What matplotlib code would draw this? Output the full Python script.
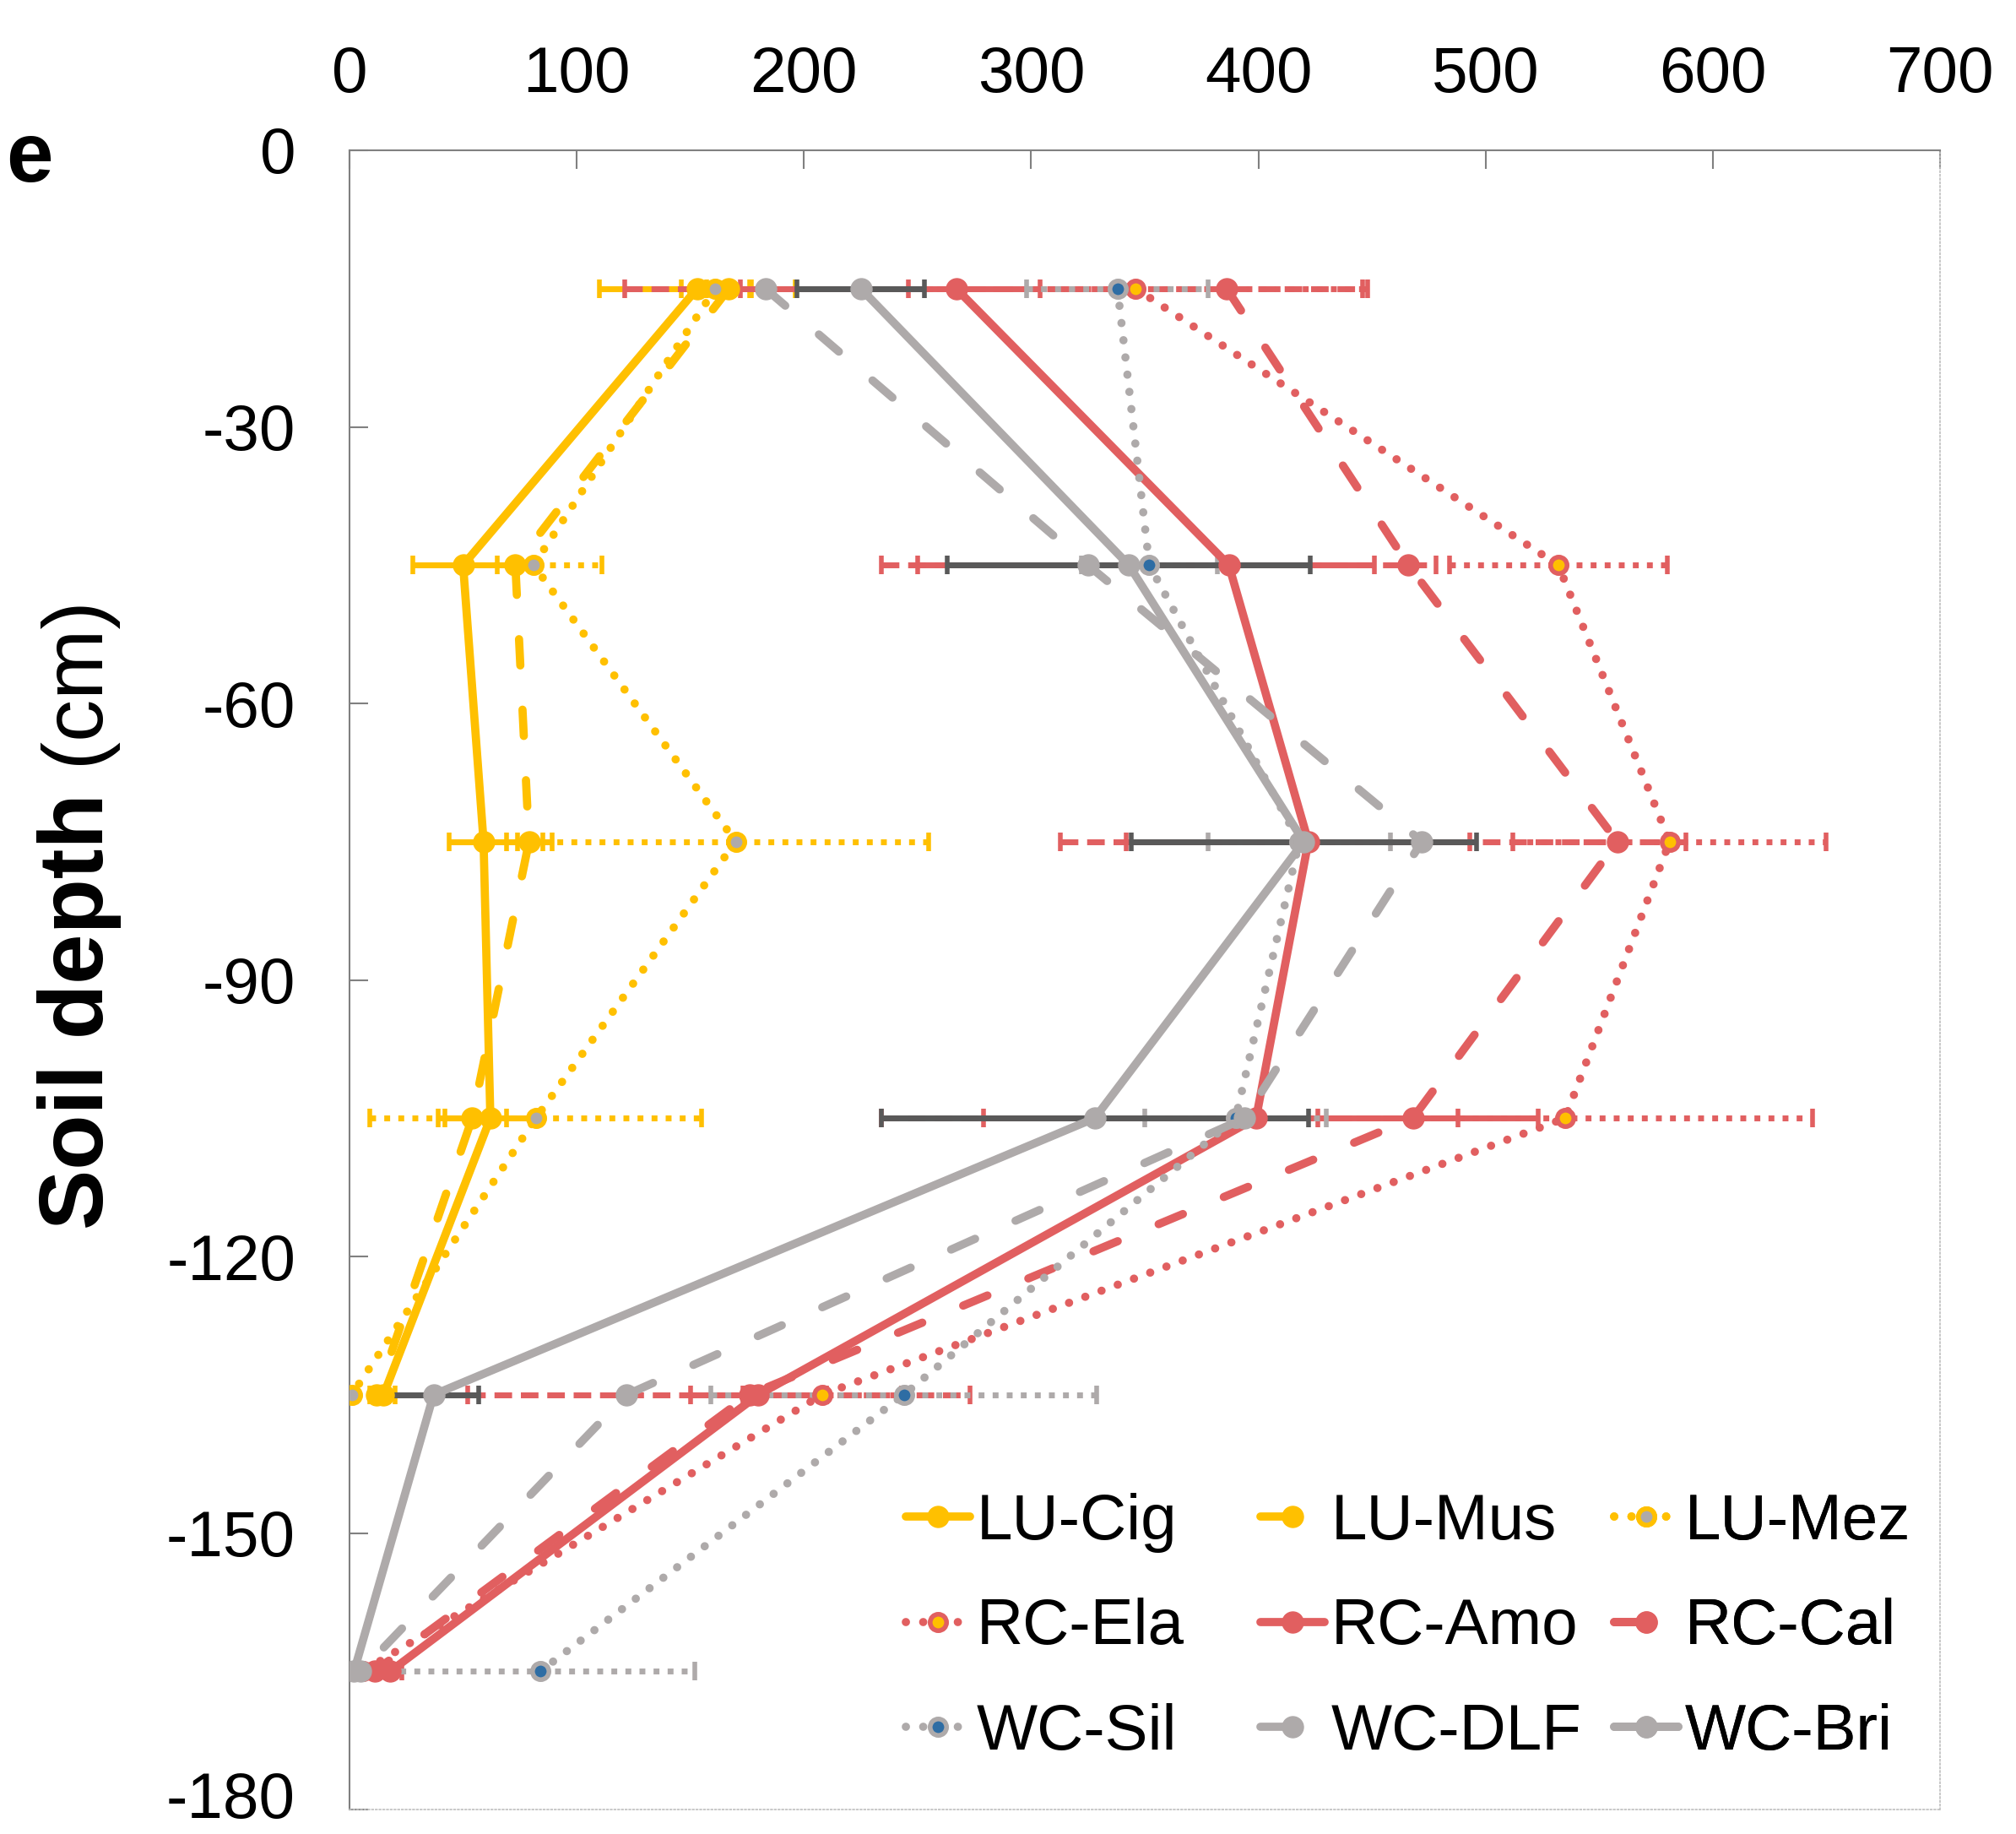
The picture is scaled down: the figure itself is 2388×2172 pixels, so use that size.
import matplotlib
matplotlib.use("Agg")
import matplotlib.pyplot as plt
from matplotlib.transforms import offset_copy

plt.rcParams['font.family'] = ['Liberation Sans', 'DejaVu Sans']
plt.rcParams['axes.unicode_minus'] = False

# depth of each sampling layer (cm)
depth = [-15, -45, -75, -105, -135, -165]
lu_depth = depth[:5]

# series values
lu_cig = [153, 50, 59, 62, 15]
lu_mus = [167, 73, 79, 54, 12]
lu_mez = [161, 81, 170, 82, 1]
rc_ela = [346, 532, 581, 535, 208, 6]
rc_amo = [267, 387, 422, 399, 180, 18]
rc_cal = [386, 466, 558, 468, 176, 11]
wc_sil = [338, 352, 418, 390, 244, 84]
wc_dlf = [183, 325, 472, 394, 122, 5]
wc_bri = [225, 343, 420, 328, 37, 2]

# error bars (lower, upper)
lu_cig_err = ([43, 22, 15, 20, 5], [43, 22, 15, 20, 5])
lu_mus_err = ([10, 8, 10, 15, 3], [10, 8, 10, 15, 3])
lu_mez_err = ([15, 30, 85, 73, 1], [15, 30, 85, 73, 1])
rc_ela_err = ([100, 48, 69, 109, 35, 5], [100, 48, 69, 109, 35, 5])
rc_amo_err = ([95, 137, 80, 120, 30, 5], [37, 64, 71, 124, 30, 5])
rc_cal_err = ([265, 232, 245, 234, 124, 5], [62, 12, 30, 20, 97, 5])
wc_sil_err = ([40, 30, 40, 40, 85, 68], [40, 30, 40, 40, 85, 68])
wc_bri_err = ([28, 80, 76, 94, 20, 3], [28, 80, 76, 94, 20, 3])

xticks = [0, 100, 200, 300, 400, 500, 600, 700]
yticks = [0, -30, -60, -90, -120, -150, -180]

YEL = '#FFC000'
RED = '#E15F60'
GRY = '#AEAAAA'
DGR = '#595959'
BLU = '#2E6DA4'

SOLID = '-'
DASH = (0, (3.2, 5.4))
DOT = (0, (0.01, 2.1))

series = [
    # label, x, y, err, color, style, errcolor, errstyle, marker face
    ('LU-Cig', lu_cig, lu_depth, lu_cig_err, YEL, SOLID, YEL, '-', None),
    ('LU-Mus', lu_mus, lu_depth, lu_mus_err, YEL, DASH, YEL, (0, (3, 1.5)), None),
    ('LU-Mez', lu_mez, lu_depth, lu_mez_err, YEL, DOT, YEL, (0, (1, 1.4)), GRY),
    ('RC-Ela', rc_ela, depth, rc_ela_err, RED, DOT, RED, (0, (1, 1.4)), YEL),
    ('RC-Amo', rc_amo, depth, rc_amo_err, RED, SOLID, RED, '-', None),
    ('RC-Cal', rc_cal, depth, rc_cal_err, RED, DASH, RED, (0, (3, 1.5)), None),
    ('WC-Sil', wc_sil, depth, wc_sil_err, GRY, DOT, GRY, (0, (1, 1.4)), BLU),
    ('WC-DLF', wc_dlf, depth, None, GRY, DASH, GRY, '-', None),
    ('WC-Bri', wc_bri, depth, wc_bri_err, GRY, SOLID, DGR, '-', None),
]

W, H = 2388, 2172
fig = plt.figure(figsize=(W / 100, H / 100), dpi=100)
ax = fig.add_axes([414 / W, (H - 2143) / H, (2298 - 414) / W, (2143 - 178) / H])

handles = {}
for label, xs, ys, err, col, ls, ecol, els, face in series:
    if err is not None:
        eb = ax.errorbar(xs, ys, xerr=[err[0], err[1]], fmt='none', ecolor=ecol,
                         elinewidth=5, capsize=8, capthick=4, zorder=2)
        eb[2][0].set_linestyle(els)
    if face is None:
        ln, = ax.plot(xs, ys, color=col, lw=7, ls=ls, marker='o', ms=18,
                      dash_capstyle='round', solid_capstyle='round', zorder=3)
    else:
        ln, = ax.plot(xs, ys, color=col, lw=7, ls=ls, marker='o', ms=14,
                      mfc=face, mec=col, mew=4, dash_capstyle='round', zorder=3)
    handles[label] = ln

ax.set_xlim(0, 700)
ax.set_ylim(-180, 0)
ax.set_xticks(xticks)
ax.set_yticks(yticks)
ax.xaxis.tick_top()
ax.tick_params(axis='both', direction='in', length=16, width=1.5, color='#808080',
               labelsize=55)
ax.tick_params(axis='x', pad=38)
ax.tick_params(axis='y', pad=46)

# lift the bottom tick label a little so it stays inside the figure
fig.canvas.draw()
last = ax.yaxis.get_major_ticks()[-1].label1
last.set_verticalalignment('center')
last.set_transform(offset_copy(last.get_transform(), fig=fig, x=0, y=10, units='dots'))

for s in ['top', 'left']:
    ax.spines[s].set_color('#808080')
    ax.spines[s].set_linewidth(1.5)
for s in ['right', 'bottom']:
    ax.spines[s].set_color('#bfbfbf')
    ax.spines[s].set_linewidth(1.2)
    ax.spines[s].set_linestyle(':')

# legend: three columns placed like the original grid
columns = [['LU-Cig', 'RC-Ela', 'WC-Sil'],
           ['LU-Mus', 'RC-Amo', 'WC-DLF'],
           ['LU-Mez', 'RC-Cal', 'WC-Bri']]
col_x = [1073, 1493, 1912]
for names, cx in zip(columns, col_x):
    leg = ax.legend([handles[k] for k in names], names, frameon=False,
                    fontsize=55, handlelength=1.0, handletextpad=0.1,
                    labelspacing=0.7, borderpad=0, borderaxespad=0,
                    loc='upper left', bbox_to_anchor=(cx / W, 1 - 1768 / H),
                    bbox_transform=fig.transFigure)
    ax.add_artist(leg)

# panel letter
fig.text(7 / W, 1 - 215 / H, 'e', fontsize=72, fontweight='bold',
         ha='left', va='baseline')

# y label: bold part + regular unit
r = fig.canvas.get_renderer()
t1 = fig.text(122 / W, 1 - 1456 / H, 'Soil depth', rotation=90,
              rotation_mode='anchor', ha='left', va='baseline',
              fontsize=77, fontweight='bold')
bb = t1.get_window_extent(r)
fig.text(122 / W, bb.y1 / H, ' (cm)', rotation=90, rotation_mode='anchor',
         ha='left', va='baseline', fontsize=72)

fig.savefig('out.png', dpi=100)
